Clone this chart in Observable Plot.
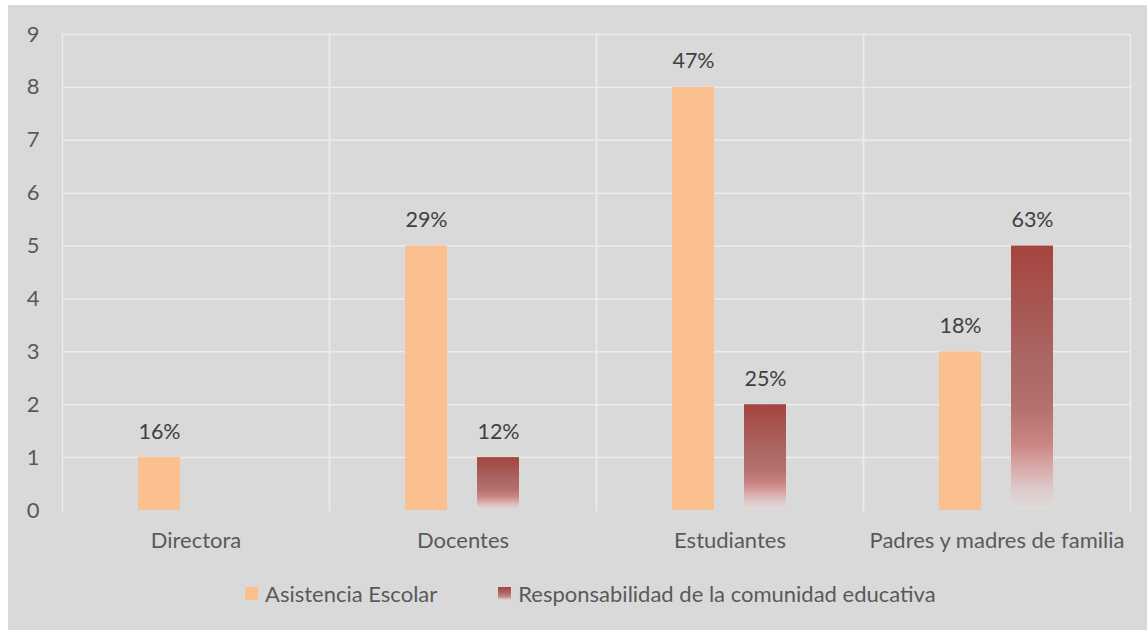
<!DOCTYPE html>
<html>
<head>
<meta charset="utf-8">
<script src="https://cdn.jsdelivr.net/npm/d3@7"></script>
<script src="https://cdn.jsdelivr.net/npm/@observablehq/plot@0.6"></script>
<style>
  html, body { margin: 0; padding: 0; background: #ffffff; }
  #chart { position: absolute; left: 8px; top: 5px; width: 1139px; height: 625px; background: #d9d9d9; font-family: Lato, "Open Sans", sans-serif; }
  #chart svg { position: absolute; left: 0; top: 0; }
  #legend { position: absolute; left: 237px; top: 575px; display: flex; align-items: center; font-size: 22px; color: #595959; white-space: nowrap; }
  .item { display: flex; align-items: center; margin-right: 61px; }
  .sw { width: 13px; height: 13px; margin-right: 7px; }
</style>
</head>
<body>
<div id="chart"><div id="legend"></div></div>
<script>
const categories = ["Directora", "Docentes", "Estudiantes", "Padres y madres de familia"];
const seriesNames = ["Asistencia Escolar", "Responsabilidad de la comunidad educativa"];
const asistencia = [1, 5, 8, 3];
const asistenciaPct = ["16%", "29%", "47%", "18%"];
const responsabilidad = [0, 1, 2, 5];
const responsabilidadPct = [null, "12%", "25%", "63%"];
const yTicks = [0, 1, 2, 3, 4, 5, 6, 7, 8, 9];

const data = [];
categories.forEach((c, i) => {
  data.push({cat: c, series: seriesNames[0], value: asistencia[i], label: asistenciaPct[i]});
  if (responsabilidad[i] > 0)
    data.push({cat: c, series: seriesNames[1], value: responsabilidad[i], label: responsabilidadPct[i]});
});

const gridColor = "#ececec";
const chart = Plot.plot({
  width: 1139,
  height: 560,
  marginTop: 29,
  marginLeft: 53,
  marginRight: 16,
  marginBottom: 55,
  style: {fontFamily: "Lato, 'Open Sans', sans-serif", fontSize: "22px", color: "#595959", background: "transparent"},
  fx: {domain: categories, padding: 0, label: null},
  x: {domain: seriesNames, paddingInner: 0.41, paddingOuter: 1.04, axis: null},
  y: {domain: [0, 9], label: null},
  marks: [
    Plot.gridY(yTicks.filter(d => d > 0), {stroke: gridColor, strokeOpacity: 1, strokeWidth: 1.5}),
    Plot.frame({anchor: "left", stroke: gridColor, strokeWidth: 1.5}),
    Plot.frame({anchor: "right", stroke: gridColor, strokeWidth: 1.5}),
    Plot.axisY(yTicks, {tickSize: 0, tickPadding: 23, tickFormat: d3.format("d"), fill: "#595959", fontSize: 22, label: null}),
    Plot.axisFx({anchor: "bottom", tickSize: 0, tickPadding: 22, fill: "#595959", fontSize: 22, label: null}),
    Plot.barY(data, {fx: "cat", x: "series", y: "value", fill: d => d.series === seriesNames[0] ? "#fac090" : "url(#redGrad)"}),
    Plot.text(data.filter(d => d.label), {fx: "cat", x: "series", y: "value", text: "label", dy: -26, fill: "#404040", fontSize: 21.5})
  ]
});

// gradient definition for the red series
const ns = "http://www.w3.org/2000/svg";
function addGrad(svg) {
  const defs = document.createElementNS(ns, "defs");
  const g = document.createElementNS(ns, "linearGradient");
  g.setAttribute("id", "redGrad");
  g.setAttribute("x1", "0"); g.setAttribute("y1", "0");
  g.setAttribute("x2", "0"); g.setAttribute("y2", "1");
  [[0, "#a5443f"], [0.4, "#aa6461"], [0.62, "#b57170"], [0.75, "#cc8585"], [0.84, "#d9a9a9"], [0.92, "#ddcaca"], [1, "#dfdcdc"]].forEach(([o, c]) => {
    const s = document.createElementNS(ns, "stop");
    s.setAttribute("offset", o); s.setAttribute("stop-color", c);
    g.appendChild(s);
  });
  defs.appendChild(g);
  svg.insertBefore(defs, svg.firstChild);
}
addGrad(chart);
document.getElementById("chart").appendChild(chart);

// legend
const legend = document.getElementById("legend");
seriesNames.forEach((name, i) => {
  const item = document.createElement("div");
  item.className = "item";
  const sw = document.createElement("div");
  sw.className = "sw";
  sw.style.background = i === 0 ? "#fac090" : "linear-gradient(#a5443f, #aa6461 40%, #cc8585 75%, #dfdcdc)";
  const t = document.createElement("span");
  t.textContent = name;
  item.appendChild(sw); item.appendChild(t);
  legend.appendChild(item);
});
</script>
</body>
</html>
